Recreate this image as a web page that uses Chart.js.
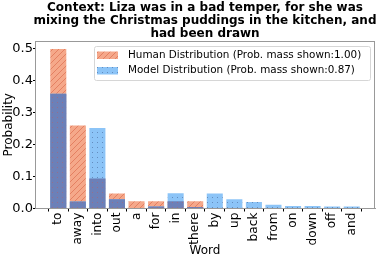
<!DOCTYPE html>
<html>
<head>
<meta charset="utf-8">
<script src="https://cdn.jsdelivr.net/npm/chart.js@4/dist/chart.umd.min.js"></script>
<style>
  html, body { margin: 0; padding: 0; background: #fff; }
  #wrap { width: 381px; height: 259px; }
</style>
</head>
<body>
<div id="wrap"><canvas id="chart" width="381" height="259"></canvas></div>
<script>
// data
const words = ['to', 'away', 'into', 'out', 'a', 'for', 'in', 'there', 'by', 'up', 'back', 'from', 'on', 'down', 'off', 'and'];
const humanProb = [0.50, 0.26, 0.094, 0.047, 0.023, 0.023, 0.023, 0.023, 0, 0, 0, 0, 0, 0, 0, 0];
const modelProb = [0.36, 0.022, 0.252, 0.029, 0, 0.006, 0.048, 0.005, 0.047, 0.029, 0.020, 0.012, 0.008, 0.008, 0.006, 0.006];
const yTicks = [0.0, 0.1, 0.2, 0.3, 0.4, 0.5];
const titleLines = ['Context: Liza was in a bad temper, for she was', 'mixing the Christmas puddings in the kitchen, and', 'had been drawn'];
const legendLabels = ['Human Distribution (Prob. mass shown:1.00)', 'Model Distribution (Prob. mass shown:0.87)'];

const FONT = 'DejaVu Sans';

// hatch patterns, like matplotlib's '////' and '..'
function hatchPattern(bg, fg) {
    const c = document.createElement('canvas');
    c.width = 6; c.height = 6;
    const g = c.getContext('2d');
    g.fillStyle = bg; g.fillRect(0, 0, 6, 6);
    g.strokeStyle = fg; g.lineWidth = 1;
    g.beginPath();
    g.moveTo(-1, 7); g.lineTo(7, -1);
    g.moveTo(-1, 1); g.lineTo(1, -1);
    g.moveTo(5, 7); g.lineTo(7, 5);
    g.stroke();
    return g.createPattern(c, 'repeat');
}
function dotPattern(bg, fg) {
    const c = document.createElement('canvas');
    c.width = 5; c.height = 5;
    const g = c.getContext('2d');
    g.fillStyle = bg; g.fillRect(0, 0, 5, 5);
    g.fillStyle = fg; g.fillRect(2, 2, 1, 1);
    return g.createPattern(c, 'repeat');
}

const humanFill = hatchPattern('rgb(245,168,138)', 'rgb(228,128,98)');
const modelFill = dotPattern('rgb(140,196,247)', 'rgb(100,140,190)');
const overlapFill = dotPattern('rgb(108,128,184)', 'rgb(150,110,140)');
const overlap = humanProb.map((h, i) => Math.min(h, modelProb[i]));

const pts = arr => arr.map((v, i) => ({ x: i, y: v }));

// title centred over the plot, like matplotlib
const titlePlugin = {
    id: 'mplTitle',
    afterDraw(chart) {
        const ctx = chart.ctx, a = chart.chartArea;
        ctx.save();
        ctx.font = 'bold 12px "' + FONT + '"';
        ctx.fillStyle = '#000';
        ctx.textAlign = 'center';
        ctx.textBaseline = 'middle';
        const cx = (a.left + a.right) / 2;
        titleLines.forEach((t, i) => ctx.fillText(t, cx, 7.5 + i * 13.1));
        ctx.restore();
    }
};

// legend inside the axes, upper right
const legendPlugin = {
    id: 'mplLegend',
    afterDatasetsDraw(chart) {
        const ctx = chart.ctx;
        const x0 = 94, y0 = 46, w = 276, h = 34;
        ctx.save();
        ctx.fillStyle = 'rgba(255,255,255,0.8)';
        ctx.strokeStyle = '#d6d6d6';
        ctx.lineWidth = 1;
        ctx.beginPath();
        ctx.roundRect(x0 + 0.5, y0 + 0.5, w, h, 2);
        ctx.fill(); ctx.stroke();
        const fills = [humanFill, modelFill];
        ctx.font = '10.4px "' + FONT + '"';
        ctx.textBaseline = 'middle';
        legendLabels.forEach((t, i) => {
            const ry = 55 + i * 15.5;
            ctx.fillStyle = fills[i];
            ctx.fillRect(97, ry - 3.5, 21, 7.5);
            ctx.fillStyle = '#000';
            ctx.fillText(t, 128, ry);
        });
        ctx.restore();
    }
};

new Chart(document.getElementById('chart'), {
    type: 'bar',
    data: {
        datasets: [
            { label: 'overlap', data: pts(overlap), backgroundColor: overlapFill },
            { label: 'Model Distribution', data: pts(modelProb), backgroundColor: modelFill },
            { label: 'Human Distribution', data: pts(humanProb), backgroundColor: humanFill }
        ]
    },
    options: {
        responsive: false,
        animation: false,
        events: [],
        layout: { padding: { top: 41, right: 6, left: 0, bottom: 0 } },
        datasets: { bar: { grouped: false, barPercentage: 0.82, categoryPercentage: 1, borderWidth: 0 } },
        plugins: { legend: { display: false }, title: { display: false }, tooltip: { enabled: false } },
        scales: {
            x: {
                type: 'linear',
                min: -1.19, max: 16.19,
                offset: false,
                afterBuildTicks: s => { s.ticks = words.map((w, i) => ({ value: i })); },
                afterFit: s => { s.height = 50.5; },
                ticks: {
                    autoSkip: false, minRotation: 90, maxRotation: 90,
                    padding: 1,
                    color: '#000',
                    font: { family: FONT, size: 12.2 },
                    callback: v => words[v]
                },
                grid: { drawOnChartArea: false, tickLength: 3, color: '#000' },
                border: { color: '#999', width: 1 },
                title: { display: true, text: 'Word', color: '#000', font: { family: FONT, size: 12 }, padding: { top: 0, bottom: 1 } }
            },
            y: {
                min: 0, max: 0.525,
                afterBuildTicks: s => { s.ticks = yTicks.map(v => ({ value: v })); },
                afterFit: s => { s.width = 35; },
                ticks: {
                    padding: 0,
                    color: '#000',
                    font: { family: FONT, size: 13 },
                    callback: v => v.toFixed(1)
                },
                grid: { drawOnChartArea: false, tickLength: 2, color: '#000' },
                border: { color: '#999', width: 1 },
                title: { display: true, text: 'Probability', color: '#000', font: { family: FONT, size: 12 }, padding: { top: 2, bottom: 0 } }
            }
        }
    },
    plugins: [titlePlugin, legendPlugin, {
        id: 'frame',
        afterDraw(chart) {
            const a = chart.chartArea, ctx = chart.ctx;
            ctx.save();
            ctx.strokeStyle = '#999';
            ctx.lineWidth = 1;
            ctx.beginPath();
            ctx.moveTo(a.left, a.top + 0.5); ctx.lineTo(a.right, a.top + 0.5);
            ctx.moveTo(a.right - 0.5, a.top); ctx.lineTo(a.right - 0.5, a.bottom);
            ctx.stroke();
            ctx.restore();
        }
    }]
});
</script>
</body>
</html>
